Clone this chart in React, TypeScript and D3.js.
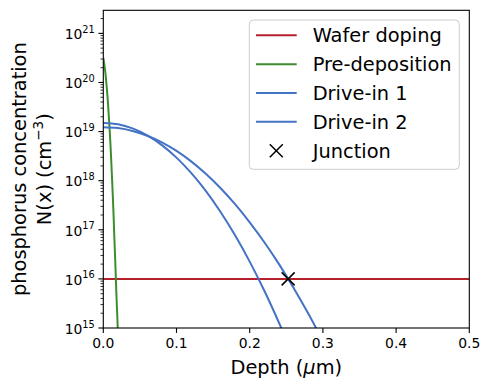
import React from "react";
import * as d3 from "d3";

const W = 490;
const H = 390;

// Data
const waferDepth = [0, 0.5];
const waferConc = [1e16, 1e16];

const preDepth = [0, 0.001, 0.002, 0.003, 0.004, 0.005, 0.006, 0.007, 0.008, 0.009, 0.01, 0.011, 0.012, 0.013, 0.014, 0.015, 0.016, 0.017, 0.018, 0.019, 0.02];
const preConc = [3.2e20, 2.58e20, 2.0e20, 1.49e20, 1.05e20, 7.1e19, 4.6e19, 2.77e19, 1.59e19, 8.96e18, 4.7e18, 2.3e18, 1.07e18, 4.9e17, 2.05e17, 7.7e16, 3.1e16, 1.18e16, 4.5e15, 1.9e15, 8e14];

const drive1Depth = [0, 0.02, 0.04, 0.06, 0.08, 0.1, 0.12, 0.14, 0.16, 0.18, 0.2, 0.22, 0.24, 0.25];
const drive1Conc = [1.5e19, 1.41e19, 1.16e19, 8.35e18, 5.3e18, 2.95e18, 1.44e18, 6.19e17, 2.33e17, 7.73e16, 2.25e16, 5.73e15, 1.28e15, 5.8e14];

const drive2Depth = [0, 0.02, 0.04, 0.06, 0.08, 0.1, 0.12, 0.14, 0.16, 0.18, 0.2, 0.22, 0.24, 0.26, 0.28, 0.3];
const drive2Conc = [1.23e19, 1.18e19, 1.03e19, 8.23e18, 6.03e18, 4.03e18, 2.47e18, 1.38e18, 7.09e17, 3.32e17, 1.42e17, 5.57e16, 2.0e16, 6.56e15, 1.97e15, 5.4e14];

const junctionDepth = [0.2525];
const junctionConc = [1e16];

const xTicks = [0, 0.1, 0.2, 0.3, 0.4, 0.5];
const yExps = [15, 16, 17, 18, 19, 20, 21];

const legendLabels = ["Wafer doping", "Pre-deposition", "Drive-in 1", "Drive-in 2", "Junction"];

const RED = "#b5202a";
const GREEN = "#3d8c2e";
const BLUE = "#4472c4";

const FONT = "DejaVu Sans, sans-serif";

export default function App() {
  const left = 103.3, right = 469.3, top = 10.3, bottom = 328;
  const x = d3.scaleLinear().domain([0, 0.5]).range([left, right]);
  const y = d3.scaleLog().domain([1e15, 2.95e21]).range([bottom, top]);

  const line = d3
    .line<[number, number]>()
    .x((d) => x(d[0]))
    .y((d) => y(d[1]))
    .curve(d3.curveMonotoneX);

  const zip = (a: number[], b: number[]) => a.map((v, i) => [v, b[i]] as [number, number]);

  const series = [
    { d: zip(waferDepth, waferConc), c: RED },
    { d: zip(preDepth, preConc), c: GREEN },
    { d: zip(drive1Depth, drive1Conc), c: BLUE },
    { d: zip(drive2Depth, drive2Conc), c: BLUE },
  ];

  const minorTicks: number[] = [];
  for (let e = 15; e <= 21; e++) {
    for (let m = 2; m <= 9; m++) {
      const v = m * Math.pow(10, e);
      if (v <= 2.95e21) minorTicks.push(v);
    }
  }

  const legX = 249.3, legY = 20, legW = 210, legH = 149.3;
  const entryY = (i: number) => 35.3 + i * 28.85;
  const mk = 6.5;

  return (
    <svg width={W} height={H} style={{ position: "absolute", left: 0, top: 0, background: "#fff" }} fontFamily={FONT}>
      <rect x={0} y={0} width={W} height={H} fill="#fff" />
      <defs>
        <clipPath id="plotclip">
          <rect x={left} y={top} width={right - left} height={bottom - top} />
        </clipPath>
      </defs>
      <g clipPath="url(#plotclip)">
        {series.map((s, i) => (
          <path key={i} d={line(s.d) || ""} fill="none" stroke={s.c} strokeWidth={2} />
        ))}
      </g>
      {junctionDepth.map((d, i) => {
        const cx = x(d), cy = y(junctionConc[i]);
        return (
          <g key={i} stroke="#000" strokeWidth={1.5}>
            <line x1={cx - mk} y1={cy - mk} x2={cx + mk} y2={cy + mk} />
            <line x1={cx - mk} y1={cy + mk} x2={cx + mk} y2={cy - mk} />
          </g>
        );
      })}
      {/* frame */}
      <rect x={left} y={top} width={right - left} height={bottom - top} fill="none" stroke="#000" strokeWidth={1.1} />
      {/* x ticks */}
      {xTicks.map((t) => (
        <g key={t}>
          <line x1={x(t)} x2={x(t)} y1={bottom} y2={bottom + 4.9} stroke="#000" strokeWidth={1.1} />
          <text x={x(t)} y={348.3} fontSize={13.9} textAnchor="middle" fill="#000">
            {t.toFixed(1)}
          </text>
        </g>
      ))}
      {/* y minor ticks */}
      {minorTicks.map((v, i) => (
        <line key={i} x1={left - 2.8} x2={left} y1={y(v)} y2={y(v)} stroke="#000" strokeWidth={0.8} />
      ))}
      {/* y major ticks */}
      {yExps.map((e) => {
        const yy = y(Math.pow(10, e));
        return (
          <g key={e}>
            <line x1={left - 4.9} x2={left} y1={yy} y2={yy} stroke="#000" strokeWidth={1.1} />
            <text x={left - 8.5} y={yy + 5.8} fontSize={13.9} textAnchor="end" fill="#000">
              10
              <tspan fontSize={9.8} dy={-6.2}>
                {e}
              </tspan>
            </text>
          </g>
        );
      })}
      {/* axis labels */}
      <text x={(left + right) / 2} y={373.5} fontSize={19.4} textAnchor="middle" fill="#000">
        Depth (<tspan fontStyle="italic">μ</tspan>m)
      </text>
      <text transform={`translate(26,${(top + bottom) / 2}) rotate(-90)`} fontSize={19.4} textAnchor="middle" fill="#000">
        phosphorus concentration
      </text>
      <text transform={`translate(50.5,${(top + bottom) / 2}) rotate(-90)`} fontSize={19.4} textAnchor="middle" fill="#000">
        N(x) (cm
        <tspan fontSize={13.6} dy={-8}>
          −3
        </tspan>
        <tspan dy={8}>)</tspan>
      </text>
      {/* legend */}
      <rect x={legX} y={legY} width={legW} height={legH} rx={4} ry={4} fill="#fff" fillOpacity={0.8} stroke="#cccccc" strokeWidth={1} />
      {legendLabels.map((lab, i) => {
        const yy = entryY(i);
        const color = i < 4 ? series[i].c : "#000";
        return (
          <g key={lab}>
            {i < 4 ? (
              <line x1={256} x2={296.7} y1={yy} y2={yy} stroke={color} strokeWidth={2} />
            ) : (
              <g stroke="#000" strokeWidth={1.5}>
                <line x1={276.3 - mk} y1={yy - mk} x2={276.3 + mk} y2={yy + mk} />
                <line x1={276.3 - mk} y1={yy + mk} x2={276.3 + mk} y2={yy - mk} />
              </g>
            )}
            <text x={312.7} y={yy + 7.1} fontSize={19.4} fill="#000">
              {lab}
            </text>
          </g>
        );
      })}
    </svg>
  );
}
